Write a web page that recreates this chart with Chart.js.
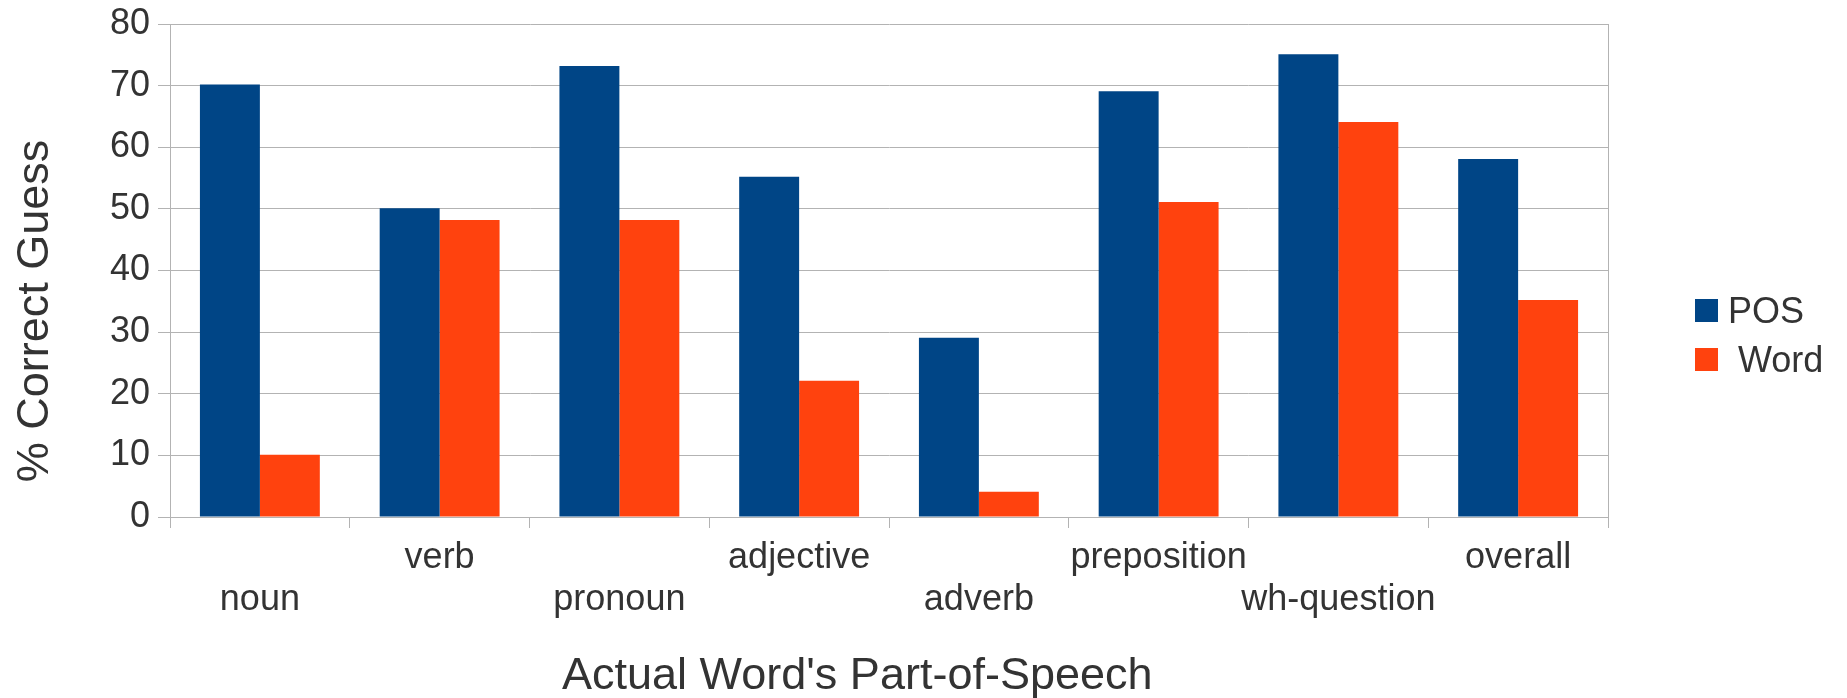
<!DOCTYPE html>
<html>
<head>
<meta charset="utf-8">
<script src="https://cdn.jsdelivr.net/npm/chart.js@4.4.1/dist/chart.umd.min.js"></script>
<style>
  html, body { margin: 0; padding: 0; background: #ffffff; }
  #wrap { width: 1847px; height: 698px; }
</style>
</head>
<body>
<div id="wrap"><canvas id="c" width="1847" height="698"></canvas></div>
<script>
// Guess accuracy per part of speech
const categories = ['noun', 'verb', 'pronoun', 'adjective', 'adverb', 'preposition', 'wh-question', 'overall'];
const posValues  = [70.2, 50.1, 73.2, 55.2, 29.1, 69.1, 75.1, 58.1];
const wordValues = [10.1, 48.2, 48.2, 22.1, 4.1, 51.1, 64.1, 35.2];
const yTickValues = [0, 10, 20, 30, 40, 50, 60, 70, 80];
const seriesNames = ['POS', ' Word'];
const seriesColors = ['#004586', '#ff420e'];
const xTitle = "Actual Word's Part-of-Speech";
const yTitle = '% Correct Guess';

const FONT = '"Liberation Sans", Arial, sans-serif';
const TEXT = '#333333';
const GRID = '#b3b3b3';

// Axis titles and the legend box on the right
const decorations = {
  id: 'decorations',
  afterDraw(chart) {
    const { ctx, chartArea } = chart;
    ctx.save();
    ctx.fillStyle = TEXT;

    // x title
    ctx.font = '45px ' + FONT;
    ctx.textAlign = 'left';
    ctx.textBaseline = 'alphabetic';
    ctx.fillText(xTitle, chartArea.left + 392, chartArea.bottom + 172);

    // y title (rotated)
    ctx.save();
    ctx.translate(47.5, chartArea.top + 287);
    ctx.rotate(-Math.PI / 2);
    ctx.textAlign = 'center';
    ctx.fillText(yTitle, 0, 0);
    ctx.restore();

    // legend
    ctx.font = '36px ' + FONT;
    ctx.textAlign = 'left';
    chart.data.datasets.forEach((ds, i) => {
      const top = chartArea.top + 275 + i * 49;
      ctx.fillStyle = ds.backgroundColor;
      ctx.fillRect(chartArea.right + 87, top, 23, 23);
      ctx.fillStyle = TEXT;
      ctx.fillText(ds.label, chartArea.right + 120, top + 23.5);
    });
    ctx.restore();
  }
};

new Chart(document.getElementById('c'), {
  type: 'bar',
  data: {
    labels: categories,
    datasets: [
      { label: seriesNames[0], data: posValues,  backgroundColor: seriesColors[0], borderWidth: 0 },
      { label: seriesNames[1], data: wordValues, backgroundColor: seriesColors[1], borderWidth: 0 }
    ]
  },
  options: {
    responsive: false,
    animation: false,
    devicePixelRatio: 1,
    layout: { padding: { left: 0, top: 24, right: 239, bottom: 0 } },
    datasets: { bar: { categoryPercentage: 0.667, barPercentage: 1.0 } },
    plugins: {
      legend: { display: false },
      tooltip: { enabled: false }
    },
    scales: {
      x: {
        offset: true,
        grid: {
          offset: true,
          drawOnChartArea: true,
          drawTicks: true,
          tickLength: 11,
          lineWidth: 1,
          color: (c) => (c.type !== 'tick' || c.index === 0) ? GRID : 'rgba(0,0,0,0)',
          tickColor: GRID
        },
        border: { display: true, color: GRID, width: 1 },
        ticks: {
          autoSkip: false,
          maxRotation: 0,
          minRotation: 0,
          padding: 9.5,
          color: TEXT,
          font: { family: FONT, size: 36, lineHeight: 1.167 },
          callback: (v, i) => (i % 2 === 0 ? ['', categories[i]] : [categories[i]])
        },
        afterFit: (scale) => { scale.height = 181; }
      },
      y: {
        min: 0,
        max: 80,
        afterBuildTicks: (scale) => { scale.ticks = yTickValues.map((v) => ({ value: v })); },
        grid: {
          color: GRID,
          lineWidth: 1,
          drawTicks: true,
          tickLength: 12,
          tickColor: GRID
        },
        border: { display: true, color: GRID, width: 1 },
        ticks: {
          padding: 8,
          color: TEXT,
          font: { family: FONT, size: 36, lineHeight: 1.0 }
        },
        afterFit: (scale) => {
          scale.width = 170;
          scale.paddingTop = 0;
          scale.paddingBottom = 0;
        }
      }
    }
  },
  plugins: [decorations]
});
</script>
</body>
</html>
